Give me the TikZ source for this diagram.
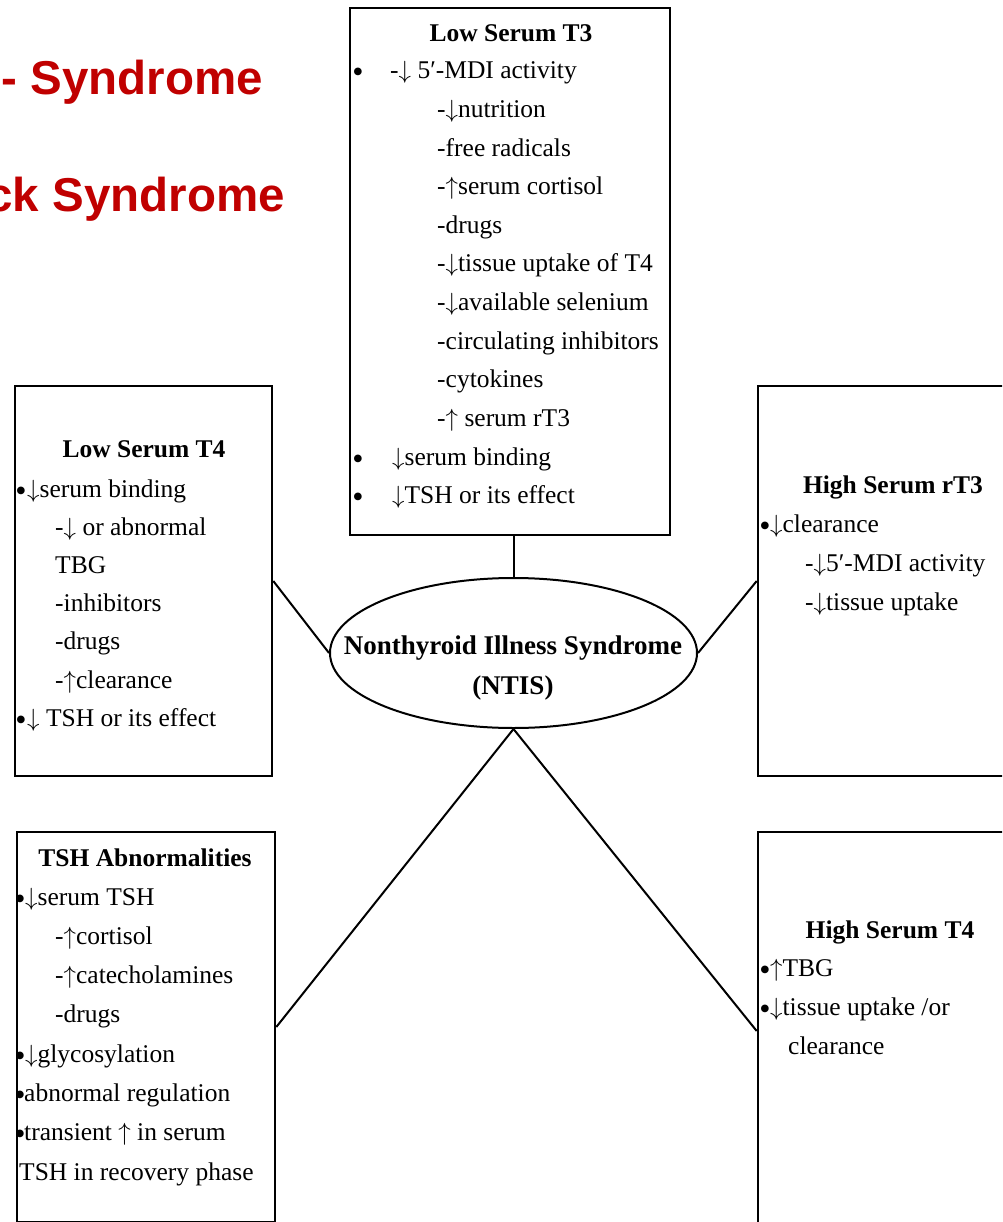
\documentclass[tikz,border=0pt]{standalone}
\usepackage{fontspec}
\setmainfont{Liberation Serif}
\newfontfamily\headfont{Liberation Sans}
\usetikzlibrary{shapes.geometric}
\definecolor{slidered}{RGB}{192,0,0}
\newcommand\bodyfont{\fontsize{25.5}{38}\selectfont}
\newcommand\ntisfont{\fontsize{27}{40}\selectfont\bfseries}
\newcommand\arrdn{$\downarrow$}
\newcommand\arrup{$\uparrow$}
\newcommand\blt{\raisebox{-4pt}{\fontsize{32}{38}\selectfont •}}
\begin{document}
\begin{tikzpicture}[x=1pt,y=-1pt,line join=miter,
		box/.style={draw,line width=2.6pt,inner sep=0pt},
		link/.style={line width=2pt},
		ttl/.style={anchor=base,inner sep=0pt,font=\bodyfont\bfseries},
		txt/.style={anchor=base west,inner sep=0pt,font=\bodyfont},
		dot/.style={anchor=base,inner sep=0pt,font=\bodyfont},
		redtxt/.style={anchor=base east,inner sep=0pt,text=slidered,
			font=\headfont\bfseries\fontsize{47.5}{50}\selectfont}]
	\useasboundingbox (0,0) rectangle (1002,1222);
	\clip (0,0) rectangle (1002,1222);
	% slide title, cut at the left
	\node[redtxt] (hdone) at (263,95) {- Syndrome};
	\node[redtxt] (hdtwo) at (285,212) {ck Syndrome};
	% centre
	\node[draw,ellipse,line width=2pt,minimum width=367pt,minimum height=150pt] (ntis) at (513.5,653) {};
	\node[align=center,inner sep=0pt,font=\ntisfont] (ntistxt) at (513,668) {Nonthyroid Illness Syndrome\\(NTIS)};
	% low T3
	\node[box,minimum width=320pt,minimum height=527pt] (t3box) at (510,271.5) {};
	\node[ttl] (t3ttl) at (511,42) {Low Serum T3};
	\foreach \dx/\t [count=\i from 0] in {390/{-\arrdn{} 5′-MDI activity},437/{-\arrdn nutrition},437/{-free radicals},
		437/{-\arrup serum cortisol},437/{-drugs},437/{-\arrdn tissue uptake of T4},437/{-\arrdn available selenium},
		437/{-circulating inhibitors},437/{-cytokines},437/{-\arrup{} serum rT3},392/{\arrdn serum binding},392/{\arrdn TSH or its effect}}
		\node[txt] (t3l\i) at (\dx,79+38.6*\i) {\t};
	\foreach \i in {0,10,11}
		\node[dot] (t3b\i) at (358,79+38.6*\i) {\blt};
	% low T4
	\node[box,minimum width=257pt,minimum height=390pt] (t4box) at (143.5,581) {};
	\node[ttl] (t4ttl) at (144,457) {Low Serum T4};
	\foreach \dx/\t [count=\i from 0] in {27/{\arrdn serum binding},55/{-\arrdn{} or abnormal},55/{TBG},55/{-inhibitors},
		55/{-drugs},55/{-\arrup clearance},27/{\arrdn{} TSH or its effect}}
		\node[txt] (t4l\i) at (\dx,497+38.2*\i) {\t};
	\foreach \i in {0,6}
		\node[dot] (t4b\i) at (21,497+38.2*\i) {\blt};
	% high rT3
	\node[box,minimum width=254pt,minimum height=390pt] (rt3box) at (885,581) {};
	\node[ttl] (rt3ttl) at (893,493) {High Serum rT3};
	\foreach \dx/\t [count=\i from 0] in {770/{\arrdn clearance},805/{-\arrdn 5′-MDI activity},805/{-\arrdn tissue uptake}}
		\node[txt] (rt3l\i) at (\dx,532+39*\i) {\t};
	\node[dot] (rt3b0) at (765,532) {\blt};
	% TSH
	\node[box,minimum width=258pt,minimum height=390pt] (tshbox) at (146,1027) {};
	\node[ttl] (tshttl) at (145,866) {TSH Abnormalities};
	\foreach \dx/\t [count=\i from 0] in {25/{\arrdn serum TSH},55/{-\arrup cortisol},55/{-\arrup catecholamines},55/{-drugs},
		25/{\arrdn glycosylation},24/{abnormal regulation},24/{transient \arrup{} in serum},19/{TSH in recovery phase}}
		\node[txt] (tshl\i) at (\dx,905+39.3*\i) {\t};
	\foreach \i in {0,4,5,6}
		\node[dot] (tshb\i) at (20,905+39.3*\i) {\blt};
	% high T4
	\node[box,minimum width=254pt,minimum height=398pt] (t4hbox) at (885,1031) {};
	\node[ttl] (t4httl) at (890,938) {High Serum T4};
	\foreach \dx/\t [count=\i from 0] in {770/{\arrup TBG},770/{\arrdn tissue uptake /or},788/{clearance}}
		\node[txt] (t4hl\i) at (\dx,976+39*\i) {\t};
	\foreach \i in {0,1}
		\node[dot] (t4hb\i) at (765,976+39*\i) {\blt};
	% links
	\draw[link] (ntis.north) -- (ntis.north |- t3box.south);
	\draw[link] (t4box.east) -- (ntis.west);
	\draw[link] (ntis.east) -- (rt3box.west);
	\draw[link] (ntis.south) -- (tshbox.east);
	\draw[link] (ntis.south) -- (t4hbox.west);
\end{tikzpicture}
\end{document}
